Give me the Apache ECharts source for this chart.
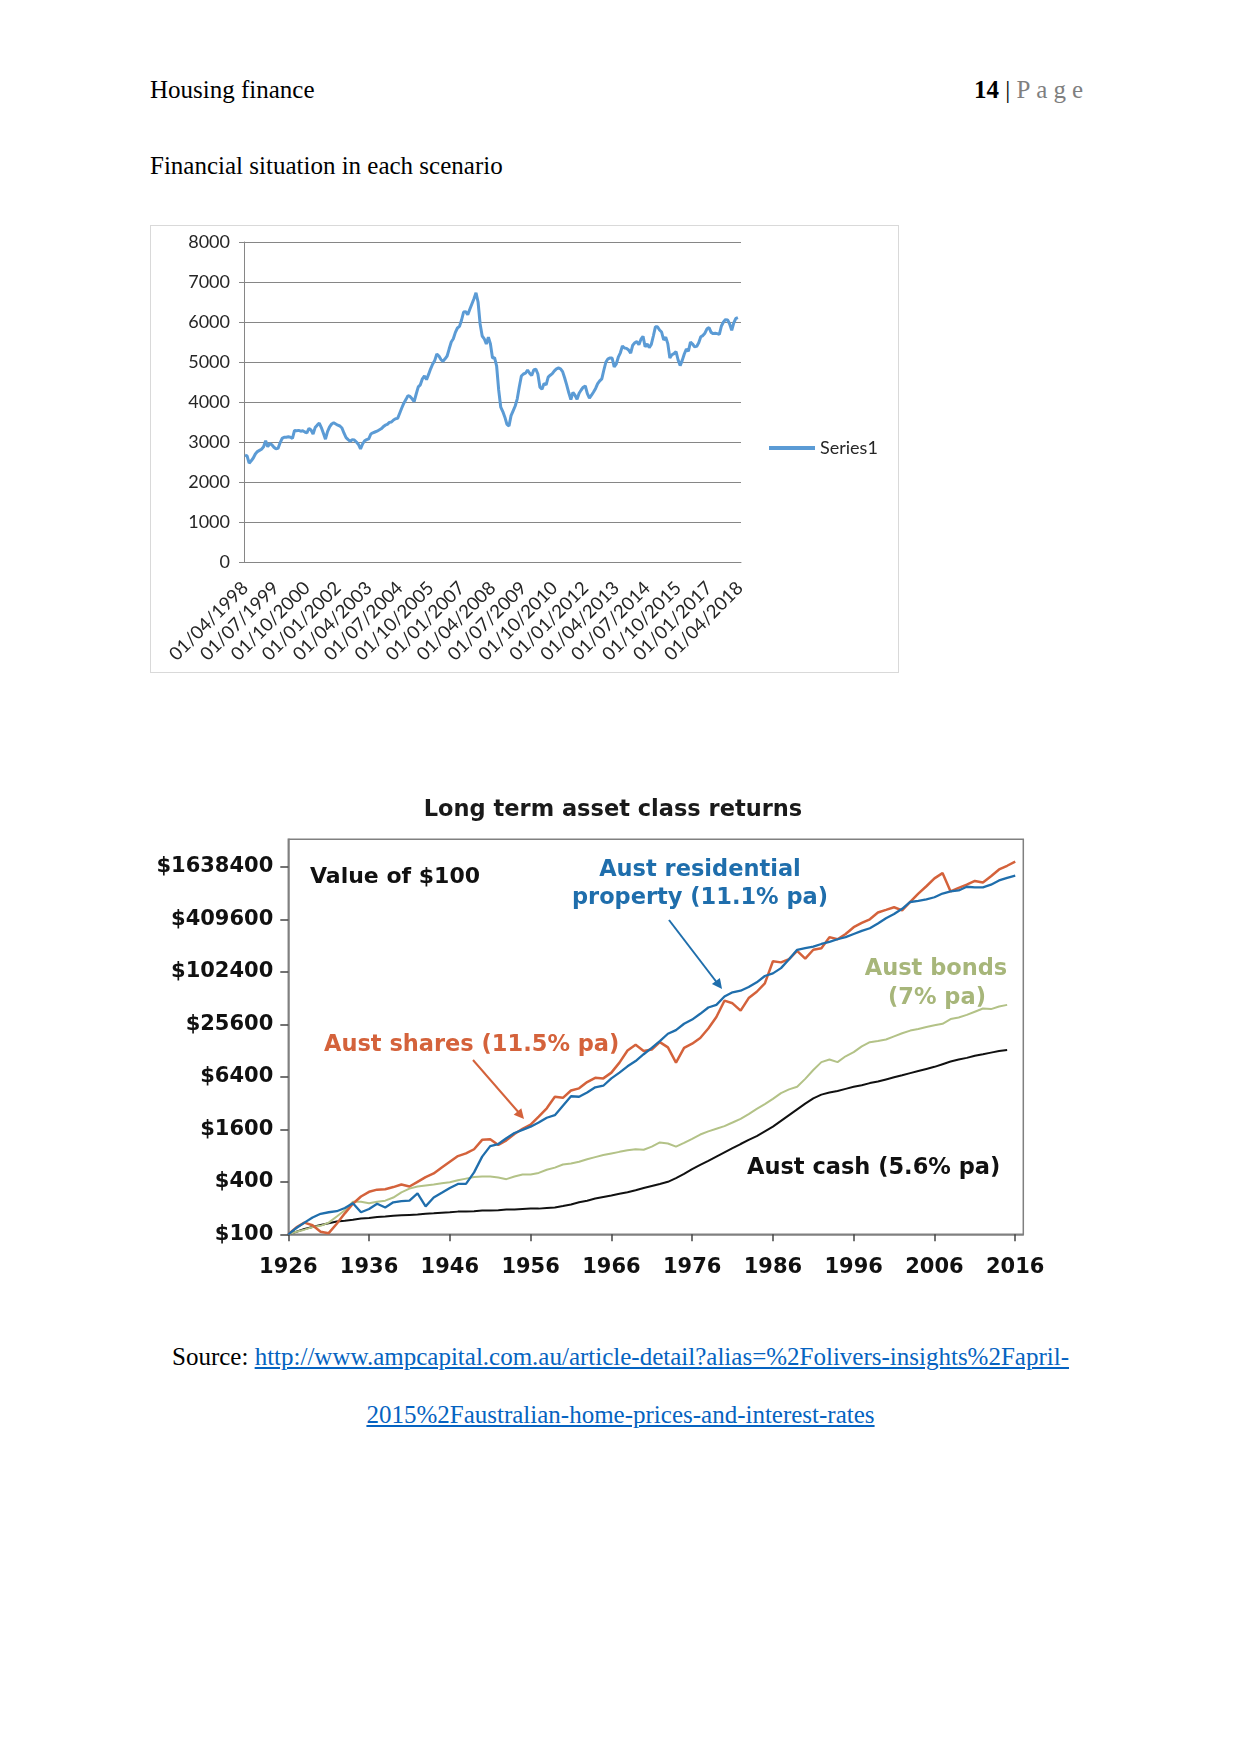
<!DOCTYPE html>
<html>
<head>
<meta charset="utf-8">
<script src="https://cdn.jsdelivr.net/npm/echarts@6/dist/echarts.min.js"></script>
<style>
html,body{margin:0;padding:0;background:#fff;}
body{width:1241px;height:1754px;position:relative;overflow:hidden;font-family:'Liberation Serif','Times New Roman',serif;color:#000;}
.t{position:absolute;font-size:25px;line-height:30px;white-space:nowrap;}
.pg{color:#7f7f7f;letter-spacing:6px;}
a{color:#0563c1;text-decoration:underline;}
#box1{position:absolute;left:150px;top:225px;width:749px;height:448px;box-sizing:border-box;border:1.5px solid #d9d9d9;}
#c1{position:absolute;left:150px;top:225px;width:749px;height:448px;}
#c2{position:absolute;left:150px;top:770px;width:950px;height:520px;}
</style>
</head>
<body>
<div class="t" style="left:150px;top:75px;">Housing finance</div>
<div class="t" style="right:152px;top:75px;"><b>14</b> | <span class="pg">Page</span></div>
<div class="t" style="left:150px;top:151px;">Financial situation in each scenario</div>
<div id="box1"></div>
<div id="c1"></div>
<div id="c2"></div>
<div class="t" style="left:0;width:1241px;text-align:center;top:1342px;">Source: <a>http://www.ampcapital.com.au/article-detail?alias=%2Folivers-insights%2Fapril-</a></div>
<div class="t" style="left:0;width:1241px;text-align:center;top:1400px;"><a>2015%2Faustralian-home-prices-and-interest-rates</a></div>
<script>
// ---------- Chart 1: monthly index, Apr 1998 - Mar 2018 ----------
const seriesName = 'Series1';
const indexValues = [
  2670, 2650, 2470, 2530, 2600, 2700, 2760, 2790, 2820, 2880,
  3030, 2880, 2960, 2930, 2870, 2830, 2840, 2980, 3090, 3120,
  3120, 3130, 3120, 3090, 3290, 3280, 3290, 3270, 3280, 3250,
  3230, 3340, 3300, 3200, 3360, 3420, 3470, 3360, 3220, 3070,
  3260, 3380, 3450, 3480, 3450, 3420, 3400, 3350, 3220, 3110,
  3060, 3020, 3060, 3050, 3000, 2940, 2830, 2950, 3030, 3060,
  3080, 3200, 3230, 3250, 3270, 3300, 3330, 3380, 3420, 3440,
  3490, 3500, 3550, 3580, 3590, 3720, 3850, 3970, 4060, 4160,
  4140, 4080, 4010, 4200, 4380, 4430, 4580, 4650, 4560, 4690,
  4830, 4950, 5040, 5200, 5150, 5060, 5020, 5080, 5150, 5330,
  5500, 5580, 5740, 5850, 5890, 6050, 6250, 6260, 6180, 6320,
  6450, 6580, 6730, 6500, 5950, 5650, 5580, 5450, 5620, 5450,
  5100, 5110, 4900, 4300, 3870, 3760, 3620, 3440, 3400, 3660,
  3780, 3900, 4080, 4380, 4650, 4700, 4720, 4800, 4720, 4660,
  4800, 4820, 4700, 4370, 4320, 4460, 4430, 4620, 4670, 4710,
  4780, 4830, 4850, 4830, 4760, 4600, 4420, 4230, 4060, 4240,
  4170, 4070, 4220, 4300, 4370, 4400, 4210, 4100, 4170, 4250,
  4340, 4460, 4530, 4580, 4800, 5000, 5080, 5100, 5100, 4880,
  4950, 5120, 5230, 5400, 5350, 5340, 5300, 5220, 5420, 5480,
  5510, 5430, 5570, 5640, 5380, 5450, 5360, 5440, 5650, 5880,
  5880, 5800, 5750, 5550, 5620, 5460, 5100, 5180, 5210, 5260,
  5050, 4910, 5040, 5200, 5320, 5270, 5500, 5450, 5380, 5390,
  5480, 5630, 5660, 5720, 5830, 5860, 5740, 5710, 5720, 5710,
  5690, 5900, 6000, 6060, 6050, 5950, 5790, 5980, 6090, 6110
];
// category labels: first day of each month, 01/04/1998 .. 01/04/2018
const monthLabels = [];
for (let i = 0; i <= 240; i++) {
  const mAbs = 3 + i; // April 1998 = month index 3 (0-based)
  const yr = 1998 + Math.floor(mAbs / 12);
  const mo = (mAbs % 12) + 1;
  monthLabels.push('01/' + (mo < 10 ? '0' + mo : mo) + '/' + yr);
}
const indexAxis = { min: 0, max: 8000, step: 1000 };

// ---------- Chart 2: Long term asset class returns (value of $100) ----------
const years = [];
for (let y = 1926; y <= 2016; y++) years.push(y);
const decadeTicks = [1926, 1936, 1946, 1956, 1966, 1976, 1986, 1996, 2006, 2016];
const valueTicks = [100, 400, 1600, 6400, 25600, 102400, 409600, 1638400];

const shares = [
  100, 120, 136, 127, 107, 103, 132, 174, 224, 271,
  307, 325, 329, 348, 373, 353, 400, 453, 499, 582,
  678, 789, 846, 945, 1212, 1229, 1056, 1196, 1412, 1622,
  1813, 2232, 2786, 3779, 3675, 4462, 4717, 5571, 6226, 6139,
  7149, 9306, 12800, 14906, 12627, 13158, 15981, 13907, 9306, 13722,
  15328, 17850, 22912, 31078, 47770, 44570, 36710, 51200, 60467, 75469,
  135168, 131379, 142848, 178278, 144794, 183296, 191078, 255693, 241869, 277811,
  332698, 371712, 409600, 490291, 525517, 563610, 518554, 647168, 808141, 980992,
  1207501, 1387315, 854016, 940851, 1022771, 1126810, 1080934, 1276314, 1528627, 1684275,
  1882522
];
const property = [
  100, 118, 136, 156, 172, 179, 184, 200, 227, 179,
  195, 224, 203, 233, 240, 243, 295, 209, 264, 299,
  339, 378, 378, 513, 778, 1027, 1085, 1264, 1452, 1578,
  1715, 1915, 2171, 2326, 2986, 3832, 3779, 4222, 4850, 5056,
  6139, 7149, 8448, 9702, 11616, 13722, 16429, 19942, 21978, 25958,
  29005, 33792, 39910, 42778, 53376, 59622, 62157, 68506, 77594, 91648,
  98227, 112845, 142848, 183296, 191078, 199270, 213504, 225690, 241869, 255693,
  277811, 301875, 323584, 366592, 421069, 470630, 540672, 647168, 665600, 693862,
  733184, 808141, 854016, 878182, 967475, 953958, 953958, 1022771, 1142374, 1224704,
  1294336
];
const bonds = [
  100, 107, 113, 121, 125, 136, 160, 189, 236, 236,
  227, 236, 243, 264, 303, 334, 353, 363, 373, 384,
  395, 417, 435, 453, 460, 460, 447, 429, 460, 486,
  486, 506, 550, 582, 632, 650, 678, 726, 768, 811,
  846, 882, 919, 945, 932, 1013, 1131, 1100, 1013, 1116,
  1246, 1393, 1514, 1622, 1739, 1915, 2112, 2392, 2749, 3114,
  3576, 4165, 4589, 4917, 6054, 7661, 9434, 10112, 9434, 10995,
  12282, 14304, 15981, 16429, 17126, 18611, 20224, 21677, 22598, 23885,
  24902, 25958, 29414, 30643, 32845, 35712, 38810, 38272, 41037, 42778
];
const cash = [
  100, 107, 115, 121, 128, 134, 140, 143, 147, 152,
  154, 158, 160, 163, 165, 167, 169, 172, 174, 177,
  179, 182, 182, 184, 187, 187, 189, 192, 192, 195,
  197, 197, 200, 203, 211, 220, 233, 243, 257, 268,
  279, 291, 303, 320, 339, 358, 378, 400, 441, 492,
  558, 624, 696, 778, 869, 971, 1085, 1212, 1336, 1514,
  1715, 1997, 2326, 2710, 3157, 3626, 3995, 4222, 4402, 4653,
  4917, 5126, 5419, 5650, 5971, 6312, 6669, 7053, 7456, 7878,
  8326, 8928, 9568, 10112, 10547, 11142, 11616, 12115, 12627, 12979
];

const chart1 = echarts.init(document.getElementById('c1'));
chart1.setOption({
  animation: false,
  grid: { left: 94, top: 17, width: 497, height: 320 },
  legend: {
    data: [seriesName], left: 614, top: 209, icon: 'rect', itemWidth: 46, itemHeight: 4,
    textStyle: { fontFamily: 'Lato', fontSize: 18, color: '#262626' }
  },
  xAxis: {
    type: 'category', data: monthLabels, boundaryGap: true,
    axisLine: { lineStyle: { color: '#868686', width: 1 } },
    axisTick: { interval: 0, length: 7, lineStyle: { color: '#868686' } },
    axisLabel: { interval: 14, rotate: 45, fontFamily: 'Lato', fontSize: 18.5, color: '#262626', margin: 23 }
  },
  yAxis: {
    type: 'value', min: indexAxis.min, max: indexAxis.max, interval: indexAxis.step,
    axisLine: { show: true, lineStyle: { color: '#868686' } },
    axisTick: { show: true, length: 5, lineStyle: { color: '#868686' } },
    splitLine: { lineStyle: { color: '#868686', width: 1 } },
    axisLabel: { fontFamily: 'Lato', fontSize: 18, color: '#262626', margin: 14, formatter: v => String(v) }
  },
  series: [{
    name: seriesName, type: 'line', data: indexValues, showSymbol: false, symbol: 'none',
    lineStyle: { color: '#5b9bd5', width: 3 }, itemStyle: { color: '#5b9bd5' }
  }]
});

const toLog4 = v => Math.log(v / 100) / Math.log(4);
const pts = vals => vals.map((v, i) => [years[i], toLog4(v)]);
const bold = 'DejaVu Sans';
function txt(text, x, y, color, size, align) {
  return { type: 'text', x: x, y: y, z: 100,
    style: { text: text, fill: color, font: 'bold ' + size + 'px "' + bold + '"',
      textAlign: align || 'left', textVerticalAlign: 'middle' } };
}
const blue = '#1f6eac', orange = '#d4623b', green = '#a7b67a', black = '#111111';

const chart2 = echarts.init(document.getElementById('c2'));
chart2.setOption({
  animation: false,
  grid: { left: 138.3, top: 69.3, width: 735, height: 395, show: true, borderColor: '#808080', borderWidth: 1.5 },
  xAxis: {
    type: 'value', min: 1926, max: 2017, splitLine: { show: false },
    axisLine: { show: true, lineStyle: { color: '#808080', width: 1.5 } },
    axisTick: { show: true, customValues: decadeTicks, length: 7, lineStyle: { color: '#444', width: 1.5 } },
    axisLabel: { customValues: decadeTicks, fontFamily: bold, fontWeight: 'bold', fontSize: 21, color: '#111', margin: 23,
      formatter: v => String(v) }
  },
  yAxis: {
    type: 'value', min: 0, max: 7.524, splitLine: { show: false },
    axisLine: { show: true, lineStyle: { color: '#808080', width: 1.5 } },
    axisTick: { show: true, customValues: valueTicks.map(toLog4), length: 8, lineStyle: { color: '#444', width: 1.5 } },
    axisLabel: { customValues: valueTicks.map(toLog4), fontFamily: bold, fontWeight: 'bold', fontSize: 21, color: '#111', margin: 15,
      formatter: v => '$' + Math.round(100 * Math.pow(4, v)) }
  },
  series: [
    { name: 'Aust cash', type: 'line', data: pts(cash), showSymbol: false, symbol: 'none', lineStyle: { color: black, width: 2 } },
    { name: 'Aust bonds', type: 'line', data: pts(bonds), showSymbol: false, symbol: 'none', lineStyle: { color: '#b3c287', width: 2 } },
    { name: 'Aust shares', type: 'line', data: pts(shares), showSymbol: false, symbol: 'none', lineStyle: { color: orange, width: 2.5 } },
    { name: 'Aust residential property', type: 'line', data: pts(property), showSymbol: false, symbol: 'none', lineStyle: { color: blue, width: 2.3 } }
  ],
  graphic: [
    txt('Long term asset class returns', 463, 40.5, '#1a1a1a', 22.5, 'center'),
    txt('Value of $100', 160, 107.5, '#111', 22, 'left'),
    txt('Aust residential', 550, 100, blue, 22.5, 'center'),
    txt('property (11.1% pa)', 550, 128.5, blue, 22.5, 'center'),
    txt('Aust bonds', 786, 199.5, green, 22.5, 'center'),
    txt('(7% pa)', 787, 228.5, green, 22.5, 'center'),
    txt('Aust shares (11.5% pa)', 174, 275.5, orange, 22.5, 'left'),
    txt('Aust cash (5.6% pa)', 597, 398.5, '#111', 22.5, 'left'),
    { type: 'line', z: 100, shape: { x1: 519, y1: 150, x2: 568, y2: 214 }, style: { stroke: blue, lineWidth: 2 } },
    { type: 'polygon', z: 100, shape: { points: [[572, 219], [561.9, 214.1], [569.9, 208.0]] }, style: { fill: blue } },
    { type: 'line', z: 100, shape: { x1: 323, y1: 290, x2: 370, y2: 344 }, style: { stroke: orange, lineWidth: 2 } },
    { type: 'polygon', z: 100, shape: { points: [[374, 349], [363.7, 344.7], [371.3, 338.2]] }, style: { fill: orange } }
  ]
});
</script>
</body>
</html>
